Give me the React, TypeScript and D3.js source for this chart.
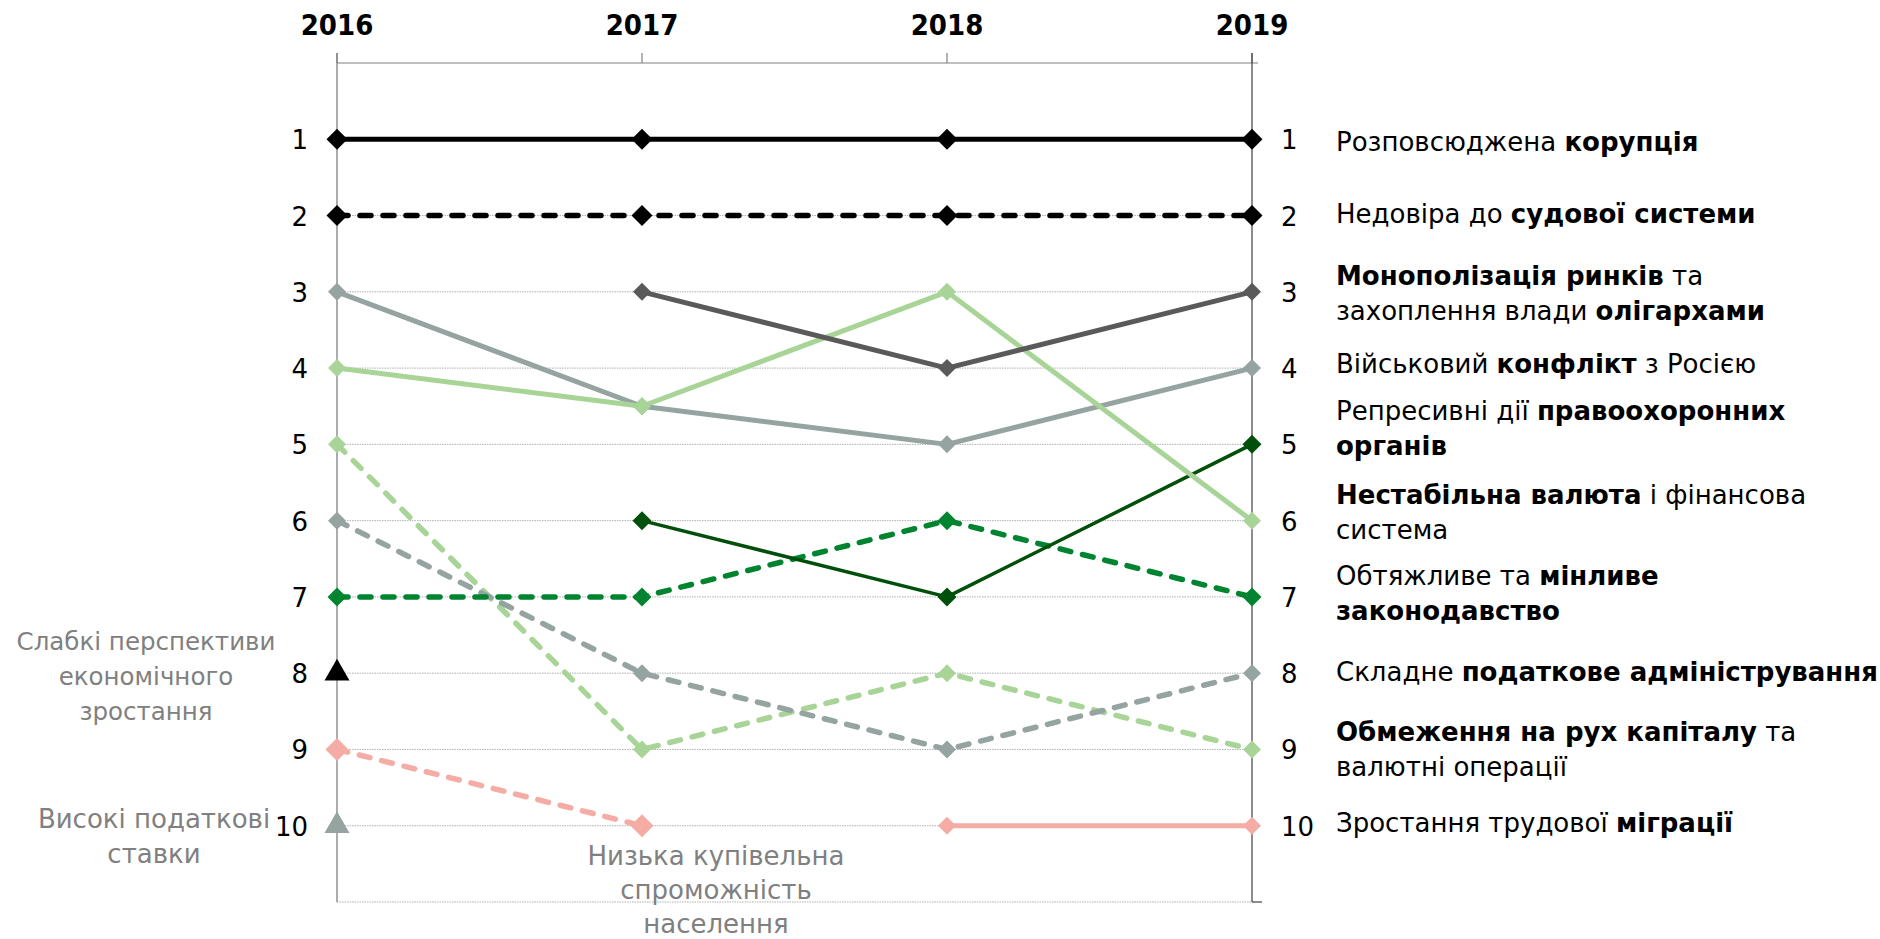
import React from "react";
import * as d3 from "d3";

// ranking data, one value per year (null = not in the top list that year)
const years = ["2016", "2017", "2018", "2019"];
const rankTicks = [1, 2, 3, 4, 5, 6, 7, 8, 9, 10];

const corruption = [1, 1, 1, 1];
const judiciary = [2, 2, 2, 2];
const monopoly = [null, 3, 4, 3];
const conflict = [3, 4.5, 5, 4];
const repressive = [null, 6, 7, 5];
const currency = [4, 4.5, 3, 6];
const legislation = [7, 7, 6, 7];
const taxAdmin = [6, 8, 9, 8];
const capital = [5, 9, 8, 9];
const migration = [null, null, 10, 10];
const purchasing = [9, 10, null, null];
const weakGrowth = [8, null, null, null];
const highTaxes = [10, null, null, null];

// labels on the right, "**" marks bold parts
const rightLabels = [
  ["Розповсюджена **корупція**"],
  ["Недовіра до **судової системи**"],
  ["**Монополізація ринків** та", "захоплення влади **олігархами**"],
  ["Військовий **конфлікт** з Росією"],
  ["Репресивні дії **правоохоронних**", "**органів**"],
  ["**Нестабільна валюта** і фінансова", "система"],
  ["Обтяжливе та **мінливе**", "**законодавство**"],
  ["Складне **податкове адміністрування**"],
  ["**Обмеження на рух капіталу** та", "валютні операції"],
  ["Зростання трудової **міграції**"],
];
const weakGrowthLabel = ["Слабкі перспективи", "економічного", "зростання"];
const highTaxesLabel = ["Високі податкові", "ставки"];
const purchasingLabel = ["Низька купівельна", "спроможність", "населення"];

// layout
const W = 1880;
const H = 939;
const FONT = "'DejaVu Sans', sans-serif";
const YEAR_FONT = "'DejaVu Sans Condensed', 'DejaVu Sans', sans-serif";
const FS = 26;
const labelDy = [12, 7, -7, 5, -24, -17, -12, 8, -8, 6];
const LH = 35;

const x = d3.scalePoint<string>().domain(years).range([337, 1252]);
const y = d3.scaleLinear().domain([0, 11]).range([63, 902]);

type Series = {
  values: (number | null)[];
  color: string;
  width: number;
  dash?: string;
  marker: number;
};

const series: Series[] = [
  { values: purchasing, color: "#F4ACA5", width: 5.5, dash: "11 12", marker: 23 },
  { values: migration, color: "#F4ACA5", width: 5, marker: 18 },
  { values: capital, color: "#A8D597", width: 5.5, dash: "11 12", marker: 18 },
  { values: taxAdmin, color: "#95A3A1", width: 5.5, dash: "11 12", marker: 18 },
  { values: legislation, color: "#00842F", width: 5.5, dash: "11 12", marker: 19 },
  { values: repressive, color: "#004F0A", width: 3.5, marker: 19 },
  { values: conflict, color: "#95A3A1", width: 5, marker: 18 },
  { values: currency, color: "#A8D597", width: 5, marker: 18 },
  { values: monopoly, color: "#5A5A5A", width: 5, marker: 18 },
  { values: judiciary, color: "#000000", width: 5.5, dash: "11 12", marker: 21 },
  { values: corruption, color: "#000000", width: 5, marker: 21 },
];

const triangles = [
  { values: weakGrowth, color: "#000000" },
  { values: highTaxes, color: "#95A3A1" },
];

const line = d3
  .line<number | null>()
  .defined((d) => d !== null)
  .x((_, i) => x(years[i]) as number)
  .y((d) => y(d as number));

const diamond = (s: number) => d3.symbol(d3.symbolSquare, (s * s) / 2)();
const triangle = d3.symbol(d3.symbolTriangle, 270)();

function RichLine({ text, xPos, yPos }: { text: string; xPos: number; yPos: number }) {
  const parts = text.split("**");
  return (
    <text x={xPos} y={yPos} fontSize={FS} fontFamily={FONT} fill="#000">
      {parts.map((p, i) => (
        <tspan key={i} fontWeight={i % 2 === 1 ? "bold" : "normal"}>
          {p}
        </tspan>
      ))}
    </text>
  );
}

export default function App() {
  const x0 = x(years[0]) as number;
  const x3 = x(years[3]) as number;
  return (
    <svg width={W} height={H} style={{ position: "absolute", left: 0, top: 0, background: "#fff" }}>
      {/* dotted grid */}
      {[...rankTicks, 11].map((r) => (
        <line key={r} x1={x0} x2={x3} y1={y(r)} y2={y(r)} stroke="#B0B0B0" strokeWidth={1} strokeDasharray="1.5 1" />
      ))}
      {/* frame */}
      <line x1={x0} x2={x3 + 6} y1={y(0)} y2={y(0)} stroke="#808080" strokeWidth={1.2} />
      {years.map((yr) => (
        <line key={yr} x1={x(yr)} x2={x(yr)} y1={y(0) - 10} y2={y(0)} stroke="#808080" strokeWidth={1.2} />
      ))}
      <line x1={x0} x2={x0} y1={y(0) - 10} y2={y(11)} stroke="#808080" strokeWidth={1.3} />
      <line x1={x3} x2={x3} y1={y(0) - 10} y2={y(11)} stroke="#404040" strokeWidth={1.2} />
      <line x1={x3} x2={x3 + 10} y1={y(11)} y2={y(11)} stroke="#404040" strokeWidth={1.2} />

      {/* year labels */}
      {years.map((yr) => (
        <text key={yr} x={x(yr)} y={35} textAnchor="middle" fontSize={29} fontWeight="bold" fontFamily={YEAR_FONT}>
          {yr}
        </text>
      ))}

      {/* rank numbers */}
      {rankTicks.map((r) => (
        <g key={r}>
          <text x={308} y={y(r) + 10} textAnchor="end" fontSize={FS} fontFamily={FONT}>
            {r}
          </text>
          <text x={1281} y={y(r) + 10} fontSize={FS} fontFamily={FONT}>
            {r}
          </text>
        </g>
      ))}

      {/* lines */}
      {series.map((s, i) => (
        <path
          key={i}
          d={line(s.values) ?? ""}
          fill="none"
          stroke={s.color}
          strokeWidth={s.width}
          strokeDasharray={s.dash}
          strokeLinecap={s.dash ? "round" : "butt"}
          strokeLinejoin="round"
        />
      ))}
      {/* markers */}
      {series.map((s, i) =>
        s.values.map((v, j) =>
          v === null ? null : (
            <path
              key={`${i}-${j}`}
              d={diamond(s.marker) ?? ""}
              transform={`translate(${x(years[j])},${y(v)}) rotate(45)`}
              fill={s.color}
            />
          )
        )
      )}
      {triangles.map((t, i) =>
        t.values.map((v, j) =>
          v === null ? null : (
            <path key={`t${i}-${j}`} d={triangle ?? ""} transform={`translate(${x(years[j])},${y(v)})`} fill={t.color} />
          )
        )
      )}

      {/* right labels */}
      {rightLabels.map((lines, i) =>
        lines.map((ln, k) => <RichLine key={`${i}-${k}`} text={ln} xPos={1336} yPos={y(i + 1) + labelDy[i] + k * LH} />)
      )}

      {/* gray annotations */}
      {weakGrowthLabel.map((t, k) => (
        <text key={t} x={146} y={650 + k * LH} textAnchor="middle" fontSize={24.5} fontFamily={FONT} fill="#808080">
          {t}
        </text>
      ))}
      {highTaxesLabel.map((t, k) => (
        <text key={t} x={154} y={828 + k * LH} textAnchor="middle" fontSize={FS} fontFamily={FONT} fill="#808080">
          {t}
        </text>
      ))}
      {purchasingLabel.map((t, k) => (
        <text key={t} x={716} y={865 + k * 34} textAnchor="middle" fontSize={FS} fontFamily={FONT} fill="#808080">
          {t}
        </text>
      ))}
    </svg>
  );
}
